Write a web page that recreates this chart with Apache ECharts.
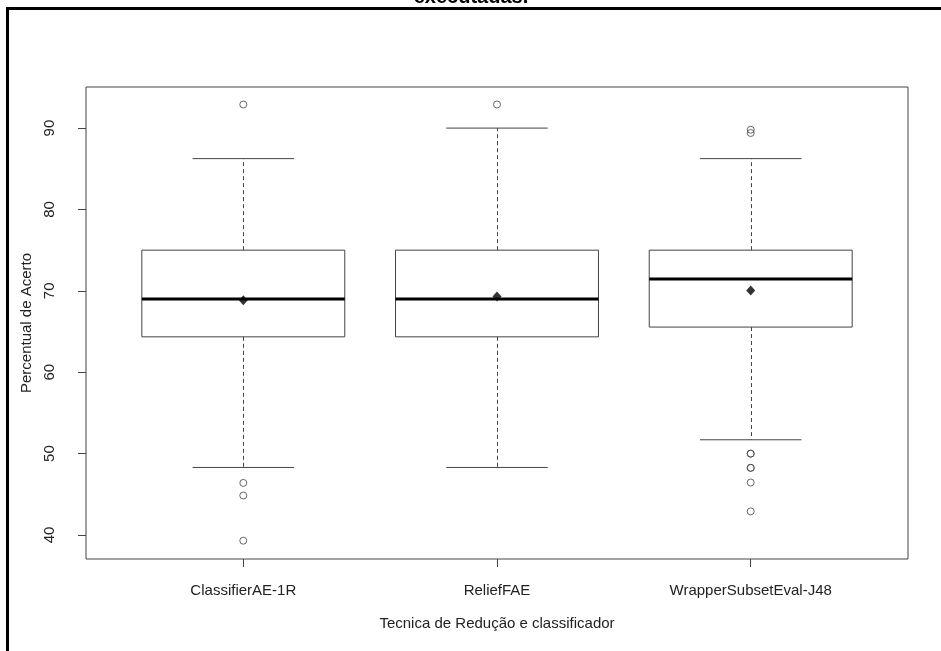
<!DOCTYPE html>
<html><head><meta charset="utf-8">
<script src="https://cdn.jsdelivr.net/npm/echarts@6/dist/echarts.min.js"></script>
<style>html,body{margin:0;padding:0;background:#fff}#c{width:941px;height:651px}</style>
</head><body><div id="c"></div>
<script>
// ---- data ----
const categories = ['ClassifierAE-1R', 'ReliefFAE', 'WrapperSubsetEval-J48'];
const whiskerLow = [48.3, 48.3, 51.7];
const q1 = [64.35, 64.35, 65.55];
const medians = [69.0, 69.0, 71.45];
const q3 = [75.0, 75.0, 75.0];
const whiskerHigh = [86.25, 90.0, 86.25];
const means = [68.86, 69.3, 70.05];
const outlierGroup = [0, 0, 0, 0, 1, 2, 2, 2, 2, 2, 2, 2, 2];
const outlierValues = [92.9, 46.4, 44.85, 39.3, 92.9, 89.8, 89.4, 50.0, 50.0, 48.25, 48.25, 46.45, 42.9];
const yTicks = [40, 50, 60, 70, 80, 90];
const titleText = 'executadas.';
const xTitle = 'Tecnica de Redução e classificador';
const yTitle = 'Percentual de Acerto';

// ---- build ----
const boxData = categories.map((c, i) => [i + 1, whiskerLow[i], q1[i], medians[i], q3[i], whiskerHigh[i]]);
const meanData = categories.map((c, i) => [i + 1, means[i]]);
const outData = outlierGroup.map((g, i) => [g + 1, outlierValues[i]]);
const FONT = 'Liberation Sans, Arial, sans-serif';
const LINE = '#444';

const chart = echarts.init(document.getElementById('c'), null, {renderer: 'canvas'});
chart.setOption({
  animation: false,
  backgroundColor: '#fff',
  grid: {left: 86, right: 33, top: 87, bottom: 92, show: true, borderColor: LINE, borderWidth: 1, backgroundColor: 'transparent'},
  graphic: [
    {type: 'rect', silent: true, shape: {x: 7.5, y: 8.5, width: 1200, height: 1200},
     style: {fill: null, stroke: '#000', lineWidth: 3}, z: 100},
    {type: 'text', silent: true, x: 471, y: 7, z: 99,
     style: {text: titleText, font: 'bold 20px ' + FONT, fill: '#000', align: 'center', verticalAlign: 'bottom'}}
  ],
  xAxis: {
    type: 'value', min: 0.38, max: 3.62,
    axisLine: {show: false},
    splitLine: {show: false},
    axisTick: {show: true, customValues: [1, 2, 3], length: 8, lineStyle: {color: LINE, width: 1}},
    axisLabel: {customValues: [1, 2, 3], formatter: v => categories[Math.round(v) - 1], margin: 24,
      fontSize: 15, fontFamily: FONT, color: '#222'},
    name: xTitle, nameLocation: 'middle', nameGap: 57,
    nameTextStyle: {fontSize: 15, fontFamily: FONT, color: '#222'}
  },
  yAxis: {
    type: 'value', min: 37.05, max: 95.05,
    axisLine: {show: false},
    splitLine: {show: false},
    axisTick: {show: true, customValues: yTicks, length: 8, lineStyle: {color: LINE, width: 1}},
    axisLabel: {customValues: yTicks, rotate: 90, margin: 29, fontSize: 15, fontFamily: FONT, color: '#222'},
    name: yTitle, nameLocation: 'middle', nameGap: 49,
    nameTextStyle: {fontSize: 15, fontFamily: FONT, color: '#222'}
  },
  series: [
    {
      type: 'custom', data: boxData, z: 2,
      renderItem: function (params, api) {
        const x = api.value(0), lo = api.value(1), a = api.value(2), m = api.value(3), b = api.value(4), hi = api.value(5);
        const left = api.coord([x - 0.4, b]);
        const right = api.coord([x + 0.4, a]);
        const mid = api.coord([x, m]);
        const capL = api.coord([x - 0.2, hi])[0];
        const capR = api.coord([x + 0.2, hi])[0];
        const yHi = api.coord([x, hi])[1];
        const yLo = api.coord([x, lo])[1];
        const yQ3 = left[1], yQ1 = right[1];
        const cx = Math.round(mid[0]) + 0.5;
        const solid = {stroke: LINE, lineWidth: 1};
        const dash = {stroke: LINE, lineWidth: 1, lineDash: [4, 3]};
        return {type: 'group', children: [
          {type: 'line', shape: {x1: cx, y1: yQ3, x2: cx, y2: yHi}, style: dash},
          {type: 'line', shape: {x1: cx, y1: yQ1, x2: cx, y2: yLo}, style: dash},
          {type: 'line', shape: {x1: capL, y1: yHi, x2: capR, y2: yHi}, style: solid},
          {type: 'line', shape: {x1: capL, y1: yLo, x2: capR, y2: yLo}, style: solid},
          {type: 'rect', shape: {x: left[0], y: yQ3, width: right[0] - left[0], height: yQ1 - yQ3},
            style: {stroke: LINE, fill: 'rgba(255,255,255,0)', lineWidth: 1}},
          {type: 'line', shape: {x1: left[0], y1: mid[1], x2: right[0], y2: mid[1]}, style: {stroke: '#000', lineWidth: 3}}
        ]};
      }
    },
    {
      type: 'scatter', data: outData, z: 3, symbol: 'circle', symbolSize: 7,
      itemStyle: {color: 'rgba(255,255,255,0)', borderColor: '#444', borderWidth: 1}
    },
    {
      type: 'scatter', data: meanData, z: 4, symbol: 'diamond', symbolSize: [9, 10],
      itemStyle: {color: '#000'}
    }
  ]
});
</script>
</body></html>
